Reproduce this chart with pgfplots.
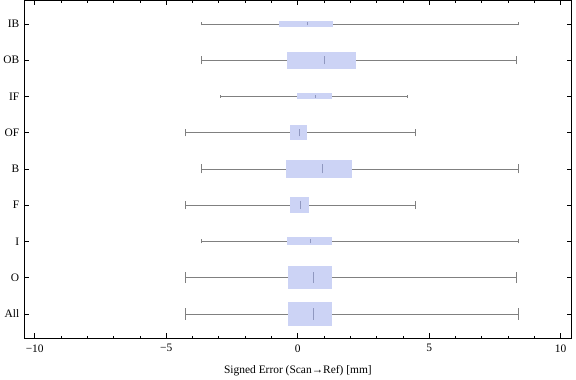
\documentclass[border=0pt]{standalone}
\usepackage{fontspec}
\setmainfont{Liberation Serif}
\usepackage{pgfplots}
\pgfplotsset{compat=1.18}
\usepgfplotslibrary{statistics}
\definecolor{boxcol}{HTML}{CCD3F5}
\definecolor{whiskcol}{HTML}{808080}
\definecolor{medcol}{HTML}{9098C0}
\newcommand{\bp}[7]{%
  \addplot[draw=whiskcol, line width=0.6pt,
    boxplot prepared={lower whisker=#1, lower quartile=#2, median=#3,
      upper quartile=#4, upper whisker=#5, draw position=#6,
      box extend=#7, whisker extend=#7*0.5}] coordinates {};}
\begin{document}
\begin{tikzpicture}
\begin{axis}[
  scale only axis,
  width=550.7bp, height=340bp,
  xmin=-10.4, xmax=10.42,
  ymin=0.32, ymax=9.65,
  axis line style={line width=0.8pt},
  xtick={-10,-5,0,5,10},
  xticklabels={−10,−5,0,5,10},
  minor xtick={-9,-8,-7,-6,-4,-3,-2,-1,1,2,3,4,6,7,8,9},
  ytick={1,2,3,4,5,6,7,8,9},
  yticklabels={All,O,I,F,B,OF,IF,OB,IB},
  tick align=inside,
  major tick length=5bp,
  minor tick length=2.5bp,
  tick style={black, line width=0.6pt},
  ticklabel style={font=\fontsize{11.5bp}{13bp}\selectfont},
  xticklabel style={yshift=-2.5bp},
  yticklabel style={xshift=-1.5bp},
  xlabel={Signed Error (Scan→Ref) [mm]},
  xlabel style={font=\fontsize{11.5bp}{13bp}\selectfont, yshift=-7bp},
  boxplot/every box/.style={draw=none, fill=boxcol},
  boxplot/every whisker/.style={draw=whiskcol, line width=0.6pt},
  boxplot/every median/.style={draw=medcol, line width=0.8pt},
  boxplot/draw/median/.code={%
    \draw[/pgfplots/boxplot/every median/.try]
      (boxplot box cs:\pgfplotsboxplotvalue{median},0.25) --
      (boxplot box cs:\pgfplotsboxplotvalue{median},0.75);},
]
% lower whisker, q1, median, q3, upper whisker, position, box extend
\bp{-3.66}{-0.71}{0.38}{1.35}{8.37}{9}{0.164}
\bp{-3.66}{-0.42}{1.03}{2.23}{8.33}{8}{0.466}
\bp{-2.94}{-0.04}{0.67}{1.29}{4.15}{7}{0.164}
\bp{-4.26}{-0.30}{0.05}{0.34}{4.47}{6}{0.40}
\bp{-3.66}{-0.45}{0.93}{2.08}{8.37}{5}{0.49}
\bp{-4.26}{-0.30}{0.12}{0.42}{4.47}{4}{0.43}
\bp{-3.66}{-0.42}{0.50}{1.32}{8.37}{3}{0.22}
\bp{-4.26}{-0.35}{0.58}{1.32}{8.33}{2}{0.62}
\bp{-4.26}{-0.35}{0.58}{1.32}{8.37}{1}{0.66}
\end{axis}
\path (current axis.north east) ++(4.3bp,0) coordinate (bbr);
\path (bbr) -- (current axis.north east);
\end{tikzpicture}
\end{document}
